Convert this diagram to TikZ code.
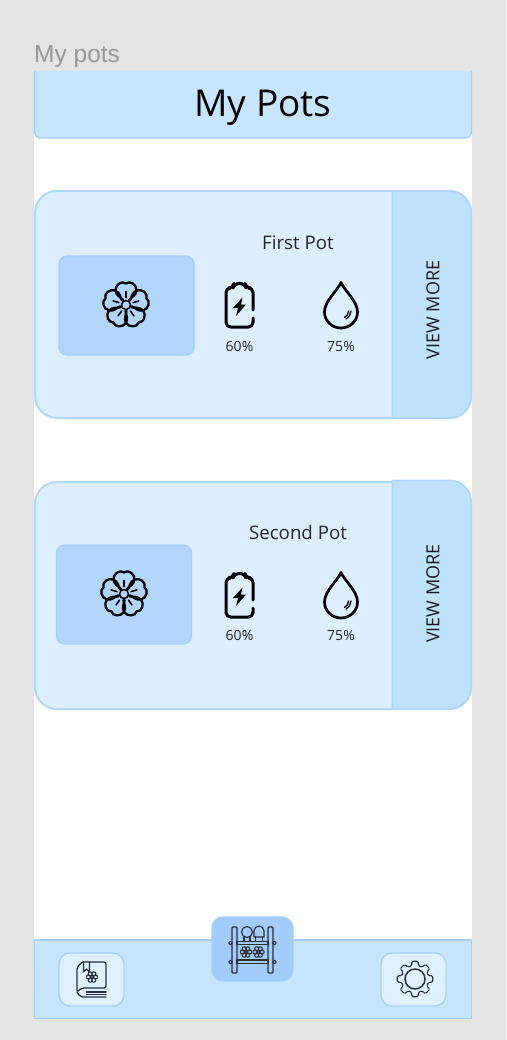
\documentclass[tikz,border=0pt]{standalone}
\usepackage{fontspec}
\setmainfont{Open Sans}
\newfontfamily\framefont{Liberation Sans}
\tikzset{
  panelbox/.style={draw=borderColor,line width=1.2pt,line join=round,fill=barColor},
  cardbox/.style={draw=cardLine,line width=2pt,line join=round,fill=cardColor},
  morebox/.style={draw=cardLine,line width=1.8pt,line join=round,fill=moreColor},
  imagebox/.style={draw=borderColor,line width=1.3pt,fill=imageColor,rounded corners=8pt},
  tabbox/.style={draw=borderColor,line width=1.3pt,fill=tabColor,rounded corners=11pt},
  iconline/.style={draw=black,line width=2.3pt,line join=round,line cap=round},
  thinline/.style={draw=darkColor,line width=1.1pt,line join=round,line cap=round},
  floweric/.pic={
    \foreach \a in {0,72,144,216,288} {
      \path[iconline,rotate=\a] (-3,-5) .. controls (-5,-8) and (-10,-9) .. (-10.5,-14.5) .. controls (-11,-20) and (-4,-25) .. (0,-21.5) .. controls (4,-25) and (11,-20) .. (10.5,-14.5) .. controls (10,-9) and (5,-8) .. (3,-5);
      \path[iconline,line width=1.6pt,rotate=\a] (0,-7.5) -- (0,-13.5);
    }
    \path[iconline,line width=1.5pt] (0,0) circle (4.5);
  },
  batteryic/.pic={
    \path[iconline,line width=3pt,rounded corners=4.5pt] (13.5,5) -- (13.5,-17) -- (6.5,-17) -- (5.5,-21.5) -- (-5.5,-21.5) -- (-6.5,-17) -- (-13.5,-17) -- (-13.5,22) -- (13.5,22) -- (13.5,13);
    \path[fill=black] (3,-7.5) -- (-6.5,3) -- (-1.5,3) -- (-3.5,11) -- (6.5,-0.5) -- (1.5,-0.5) -- cycle;
  },
  dropic/.pic={
    \path[iconline,line width=2.7pt] (0,-22.5) .. controls (3,-15) and (16.5,-4) .. (16.5,7) .. controls (16.5,16) and (9,23) .. (0,23) .. controls (-9,23) and (-16.5,16) .. (-16.5,7) .. controls (-16.5,-4) and (-3,-15) .. (0,-22.5) -- cycle;
    \path[iconline,line width=1.3pt] (10,6) .. controls (10,9.5) and (8,12) .. (5,14);
    \path[iconline,line width=1.3pt] (7.5,6) .. controls (7.5,9) and (6,11) .. (3.5,12.5);
  },
  minibloom/.pic={
    \foreach \a in {0,60,120,180,240,300} {
      \path[thinline] (\a:3.6) circle (2.1);
    }
    \path[thinline] (0,0) circle (1.6);
  }
}
\begin{document}
\begin{tikzpicture}[x=1pt,y=-1pt]
\definecolor{fillColor}{RGB}{228,228,228}
\definecolor{barColor}{RGB}{199,229,252}
\definecolor{borderColor}{RGB}{165,208,251}
\definecolor{cardColor}{RGB}{221,239,255}
\definecolor{cardLine}{RGB}{176,214,251}
\definecolor{moreColor}{RGB}{192,226,253}
\definecolor{imageColor}{RGB}{178,214,251}
\definecolor{tabColor}{RGB}{223,240,254}
\definecolor{shelfColor}{RGB}{163,204,251}
\definecolor{darkColor}{RGB}{40,46,56}
\definecolor{labelColor}{RGB}{150,150,150}
\path[use as bounding box,fill=fillColor] (0,0) rectangle (506,1040);
\path[fill=white] (34,71) rectangle (472,1019);

\path[panelbox,draw=none] (34.5,71) -- (471.5,71) [rounded corners=6pt] -- (471.5,138) -- (34.5,138) [sharp corners] -- (34.5,71) -- cycle;

\path[panelbox,fill=none] (471.5,71) [rounded corners=6pt] -- (471.5,138) -- (34.5,138) [sharp corners] -- (34.5,71);

\node[text=labelColor,anchor=base west,inner sep=0pt,font=\framefont\fontsize{24.5}{28}\selectfont] (framelabel) at (34,62.5) {My pots};

\node[text=black,anchor=base,inner sep=0pt,font=\fontsize{37}{44}\selectfont] (pagetitle) at (263,117) {My Pots};

\path[cardbox,rounded corners=22pt] (35,191) rectangle (471,418);

\path[morebox] (392.5,191) [rounded corners=21pt] -- (471,191) -- (471,418) [sharp corners] -- (392.5,418) -- cycle;

\path[imagebox] (59,256) rectangle (194,355);

\pic (flowerone) at (126,305) {floweric};

\pic (batteryone) at (239.5,305) {batteryic};

\pic (dropone) at (341,305) {dropic};

\node[text=black!85,anchor=base,inner sep=0pt,font=\fontsize{18.7}{22}\selectfont] (nameone) at (298,250) {First Pot};

\node[text=black!85,anchor=base,inner sep=0pt,font=\fontsize{14}{16}\selectfont] (chargeone) at (239.5,351) {60\%};

\node[text=black!85,anchor=base,inner sep=0pt,font=\fontsize{14}{16}\selectfont] (waterone) at (341,351) {75\%};

\node[text=black!90,rotate=90,inner sep=0pt,font=\fontsize{18}{22}\selectfont] (moreone) at (433,310) {VIEW MORE};

\path[cardbox,rounded corners=22pt] (35,482) rectangle (471,709);

\path[morebox] (392.5,480.5) [rounded corners=21pt] -- (471,480.5) -- (471,708.5) [sharp corners] -- (392.5,708.5) -- cycle;

\path[imagebox] (56.5,545) rectangle (191.5,644);

\pic (flowertwo) at (124,594) {floweric};

\pic (batterytwo) at (239.5,595) {batteryic};

\pic (droptwo) at (341,595) {dropic};

\node[text=black!85,anchor=base,inner sep=0pt,font=\fontsize{18.7}{22}\selectfont] (nametwo) at (298,539) {Second Pot};

\node[text=black!85,anchor=base,inner sep=0pt,font=\fontsize{14}{16}\selectfont] (chargetwo) at (239.5,640) {60\%};

\node[text=black!85,anchor=base,inner sep=0pt,font=\fontsize{14}{16}\selectfont] (watertwo) at (341,640) {75\%};

\node[text=black!90,rotate=90,inner sep=0pt,font=\fontsize{18}{22}\selectfont] (moretwo) at (433,593.5) {VIEW MORE};

\path[panelbox] (34.5,940) rectangle (471.5,1018.5);

\path[tabbox] (59,953) rectangle (124,1006);

\path[tabbox] (381,953) rectangle (446,1006);

\path[tabbox,fill=shelfColor] (212,917) rectangle (293,981);

\begin{scope}[shift={(91.5,979)}]
\path[thinline,line width=1.3pt,rounded corners=2pt] (-8,-17) -- (14.5,-17) -- (14.5,9) -- (-10,9) -- (-14.5,13) -- (-14.5,-12) -- (-9,-17);
\path[thinline,line width=1.3pt,rounded corners=2pt] (-14.5,13) -- (-11,18) -- (14.5,18);
\path[thinline,line width=1.5pt] (-5,13) -- (14.5,13);
\path[thinline,line width=1.5pt] (-5,15.5) -- (14.5,15.5);
\path[thinline] (-8,-17) -- (-8,-7) -- (-5,-10) -- (-2,-7) -- (-2,-17);
\pic (bookbloom) at (0.5,-2) {minibloom};
\end{scope}

\begin{scope}[shift={(415,979)}]
\foreach \a in {0,45,...,315} {
  \path[thinline,rounded corners=1.2pt] (\a-22.5:13.5) -- (\a-14:14) -- (\a-10:18) -- (\a+10:18) -- (\a+14:14) -- (\a+22.5:13.5);
}
\path[thinline,line width=1.5pt] (0,0) circle (10);
\end{scope}

\begin{scope}[shift={(252,948)}]
\path[thinline,line width=1.3pt,rounded corners=1pt] (-20,-21) rectangle (-15,25);
\path[thinline,line width=1.3pt,rounded corners=1pt] (16,-21) rectangle (21,25);
\path[thinline,line width=1.3pt] (-15,-6.5) rectangle (16,-3.5);
\path[thinline,line width=1.3pt] (-15,12) rectangle (16,15.5);
\path[thinline] (-21.5,-5) circle (1.8);
\path[thinline] (22.5,-5) circle (1.8);
\path[thinline] (-21.5,14) circle (1.8);
\path[thinline] (22.5,14) circle (1.8);
\path[thinline] (-5,-16) circle (5.5);
\path[thinline] (-8,-10.5) -- (-8,-6.5);
\path[thinline] (-2,-10.5) -- (-2,-6.5);
\path[thinline] (2,-11) -- (2,-17) arc[start angle=180,end angle=360,radius=5] -- (12,-11) -- cycle;
\path[thinline] (3.5,-11) -- (3.5,-6.5);
\path[thinline] (10.5,-11) -- (10.5,-6.5);
\pic (shelfbloomleft) at (-6,4) {minibloom};
\pic (shelfbloomright) at (6.5,4) {minibloom};
\end{scope}
\end{tikzpicture}
\end{document}
